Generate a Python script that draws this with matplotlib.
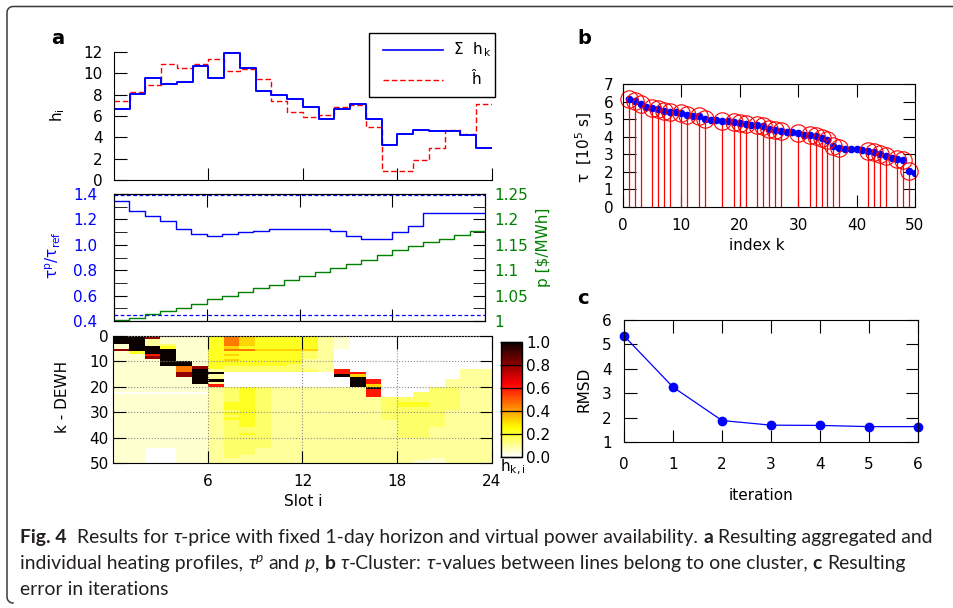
import numpy as np
import matplotlib.pyplot as plt
from matplotlib.lines import Line2D
from matplotlib.patches import Rectangle
from matplotlib.font_manager import FontProperties

plt.rcParams['font.family'] = ['DejaVu Sans']

W, H = 954, 608

# panel a: 24 hourly slots (edges 0..24)
slots = np.arange(25)
h_sum = [6.7, 8.1, 9.6, 9.0, 9.15, 10.7, 9.6, 11.9, 10.5, 8.35, 8.0, 7.55,
         6.8, 5.75, 6.7, 7.1, 5.75, 3.25, 4.35, 4.65, 4.55, 4.55, 4.2, 3.0]
h_hat = [7.45, 8.25, 8.95, 10.9, 10.5, 10.9, 11.3, 10.2, 10.4, 9.45, 7.45, 6.4,
         5.9, 6.05, 6.8, 7.0, 4.95, 0.8, 0.8, 1.9, 3.0, 4.65, 4.35, 7.1]
tau_ratio = [1.345, 1.266, 1.227, 1.187, 1.122, 1.088, 1.072, 1.082, 1.098, 1.111,
             1.122, 1.122, 1.122, 1.122, 1.111, 1.072, 1.048, 1.048, 1.098, 1.147,
             1.253, 1.253, 1.253, 1.253]
price = [1.001, 1.005, 1.013, 1.020, 1.026, 1.033, 1.043, 1.049, 1.058, 1.064,
         1.071, 1.081, 1.088, 1.096, 1.104, 1.112, 1.120, 1.129, 1.139, 1.148,
         1.155, 1.161, 1.170, 1.178]
tau_bounds = [1.395, 0.445]

# h_k,i per DEWH (rows k=0..49) and slot (cols), coded 0-9 -> heat_levels
heat_levels = [0.0, 0.05, 0.1, 0.15, 0.22, 0.32, 0.45, 0.6, 0.8, 1.0]
heat_rows = [
    "998111465444421000000000",
    "992111465444421000000000",
    "992111465444421000000000",
    "192311465444421000000000",
    "199411454444421000000000",
    "899911466555520000000000",
    "149911444444320000000000",
    "117911454444320000000000",
    "118911444444320000000000",
    "111911454444220000000000",
    "111991444444220000000000",
    "111991444443220000000000",
    "111168433333220000000000",
    "111169233333327000000022",
    "111189900000007700000022",
    "111189200000009500000022",
    "111119200000000900000022",
    "111119900000000970000222",
    "111119200000000970000222",
    "111111700000000950000222",
    "111111234322222290003322",
    "111111234322222270003322",
    "000000234322222270033322",
    "111111234322222270033322",
    "111111234322222223333322",
    "111111234322222223333322",
    "111111244322222223443322",
    "111111244322222223443322",
    "111111244322222223333322",
    "111111234322222223333222",
    "111111244322222223333222",
    "111111234322222223333222",
    "111111244322222223333222",
    "111111234322222222333222",
    "111111234322222222333222",
    "111111234322222222333222",
    "111111233322222222332222",
    "111111233322222222332222",
    "111111234322222222332222",
    "111111233322222222332222",
    "111111233322222222222222",
    "111111233322222222222222",
    "111111233322222222222222",
    "111111233322222222222222",
    "110011233222222222222222",
    "110011233222222222222222",
    "110011233222222222222222",
    "110011232222222222222222",
    "110011222222222222221222",
    "110011222222222222211222",
]
assert len(heat_rows) == 50 and all(len(r) == 24 for r in heat_rows)

# panel b
k_index = np.arange(1, 51)
tau_k = [6.17, 6.05, 5.86, 5.67, 5.63, 5.58, 5.48, 5.39, 5.39, 5.37,
         5.26, 5.20, 5.16, 5.00, 4.97, 4.97, 4.91, 4.88, 4.84, 4.78,
         4.72, 4.69, 4.69, 4.59, 4.46, 4.36, 4.31, 4.25, 4.25, 4.21,
         4.12, 4.08, 4.02, 3.93, 3.83, 3.49, 3.36, 3.30, 3.30, 3.30,
         3.22, 3.21, 3.13, 3.04, 2.88, 2.79, 2.73, 2.69, 2.03, 1.94]
cluster_k = [1, 2, 3, 5, 6, 7, 8, 10, 11, 13, 14, 17, 19, 20, 21, 23, 24, 25,
             26, 27, 30, 32, 33, 34, 35, 36, 37, 42, 43, 44, 45, 47, 48, 49]

# panel c
iterations = np.arange(7)
rmsd = [5.35, 3.25, 1.88, 1.69, 1.68, 1.63, 1.63]

BLUE, RED, GREEN = '#0000ff', '#ff0000', '#008000'
TICK = 11
TL = 9


def px_box(x0, y0, x1, y1):
    return [x0 / W, 1 - y1 / H, (x1 - x0) / W, (y1 - y0) / H]


def label(x, y, s, **kw):
    fig.text(x / W, 1 - y / H, s, ha='center', va='center', **kw)


def stepped(vals):
    return np.append(vals, vals[-1])


fig = plt.figure(figsize=(W / 100, H / 100), dpi=100)

# ---- a: aggregated profile
ax_h = fig.add_axes(px_box(114, 52, 492, 180))
ax_h.step(slots, stepped(h_hat), where='post', color=RED, lw=1.0, ls=(0, (4, 2)))
ax_h.step(slots, stepped(h_sum), where='post', color=BLUE, lw=1.4)
ax_h.set_xlim(0, 24)
ax_h.set_ylim(0, 12)
ax_h.set_xticks([6, 12, 18, 24])
ax_h.set_xticklabels([])
ax_h.set_yticks(range(0, 13, 2))
ax_h.spines[['top', 'right']].set_visible(False)
ax_h.tick_params(direction='in', length=TL, labelsize=TICK, pad=8)

# legend drawn by hand (gnuplot style box)
fig.add_artist(Rectangle((369 / W, 1 - 97 / H), 126 / W, 64 / H, transform=fig.transFigure,
                         fill=False, ec='black', lw=1.0))
fig.add_artist(Line2D([383 / W, 443 / W], [1 - 50 / H] * 2, color=BLUE, lw=1.2,
                      transform=fig.transFigure))
fig.add_artist(Line2D([383 / W, 443 / W], [1 - 80 / H] * 2, color=RED, lw=1.0,
                      ls=(0, (4, 2)), transform=fig.transFigure))
label(473, 50, 'Σ  h$_{\\,\\mathregular{k}}$', fontsize=TICK)
label(476, 80, 'ĥ', fontsize=TICK)

# ---- a: tau ratio and price
ax_t = fig.add_axes(px_box(114, 194, 485, 321))
ax_t.step(slots, stepped(tau_ratio), where='post', color=BLUE, lw=1.0)
for b in tau_bounds:
    ax_t.axhline(b, color=BLUE, lw=0.9, ls=(0, (3, 2)))
ax_t.set_xlim(0, 24)
ax_t.set_ylim(0.4, 1.4)
ax_t.set_xticks([6, 12, 18])
ax_t.set_xticklabels([])
ax_t.set_yticks(np.arange(0.4, 1.41, 0.2))
ax_t.set_yticks(np.arange(0.5, 1.31, 0.2), minor=True)
ax_t.yaxis.set_major_formatter('{x:.1f}')
ax_t.tick_params(axis='x', direction='in', length=TL, top=True)
ax_t.tick_params(axis='y', which='both', direction='in', length=TL, labelsize=TICK,
                 labelcolor=BLUE, pad=12)

ax_p = ax_t.twinx()
ax_p.step(slots, stepped(price), where='post', color=GREEN, lw=1.0)
ax_p.set_ylim(1.0, 1.25)
ax_p.set_yticks([1.0, 1.05, 1.1, 1.15, 1.2, 1.25])
ax_p.set_yticklabels(['1', '1.05', '1.1', '1.15', '1.2', '1.25'])
ax_p.set_yticks(np.arange(1.025, 1.25, 0.05), minor=True)
ax_p.tick_params(axis='y', which='both', direction='in', length=TL, labelsize=TICK,
                 labelcolor=GREEN, pad=7)

# ---- a: individual profiles
heat = np.array([[heat_levels[int(c)] for c in row] for row in heat_rows])
ax_m = fig.add_axes(px_box(113, 336, 492, 463))
im = ax_m.imshow(heat, cmap='hot_r', vmin=0, vmax=1, extent=(0, 24, 50, 0),
                 aspect='auto', interpolation='nearest')
ax_m.set_xticks([6, 12, 18, 24])
ax_m.set_yticks(range(0, 51, 10))
ax_m.set_axisbelow(False)
ax_m.grid(True, color='#8c8c8c', ls=':', lw=0.8)
ax_m.tick_params(direction='in', length=TL, top=True, right=True, labelsize=TICK)
ax_m.tick_params(axis='y', pad=3)
ax_m.tick_params(axis='x', pad=8)

cax = fig.add_axes(px_box(501, 342, 522, 457))
cb = fig.colorbar(im, cax=cax, ticks=np.arange(0, 1.01, 0.2))
cb.ax.yaxis.set_major_formatter('{x:.1f}')
cb.ax.tick_params(direction='in', length=15.5, width=0.9, labelsize=TICK, pad=3)
cb.outline.set_linewidth(1.0)
label(513, 467, 'h$_\\mathregular{k,i}$', fontsize=TICK)

# ---- b: tau clusters
ax_b = fig.add_axes(px_box(623, 84, 915, 207))
tau_sel = [tau_k[k - 1] for k in cluster_k]
ax_b.vlines(cluster_k, 0, tau_sel, color=RED, lw=0.9)
ax_b.plot(k_index, tau_k, 'o', color=BLUE, ms=5.5, mec='none')
ax_b.plot(cluster_k, tau_sel, 'o', mfc='none', mec=RED, ms=12.5, mew=0.8, clip_on=False)
ax_b.set_xlim(0, 50)
ax_b.set_ylim(0, 7)
ax_b.set_xticks(range(0, 51, 10))
ax_b.set_yticks(range(0, 8))
ax_b.tick_params(direction='in', length=TL, top=True, right=True, labelsize=TICK)
ax_b.tick_params(axis='y', pad=7)
ax_b.tick_params(axis='x', pad=8)

# ---- c: RMSD
ax_c = fig.add_axes(px_box(624, 320, 918, 442))
ax_c.plot(iterations, rmsd, '-o', color=BLUE, lw=0.9, ms=6, clip_on=False)
ax_c.set_xlim(0, 6)
ax_c.set_ylim(1, 6)
ax_c.set_xticks(range(0, 7))
ax_c.set_yticks(range(1, 7))
ax_c.tick_params(direction='in', length=TL, top=True, right=True, labelsize=TICK)
ax_c.tick_params(axis='y', pad=9)
ax_c.tick_params(axis='x', pad=11)

# panel letters and axis titles
label(58, 38, 'a', fontsize=14, fontweight='bold')
label(584, 38, 'b', fontsize=14, fontweight='bold')
label(583, 299, 'c', fontsize=14, fontweight='bold')
label(58, 115, 'h$_\\mathregular{i}$', fontsize=TICK, rotation=90)
label(53, 255, 'τ$^\\mathregular{p}$/τ$_\\mathregular{ref}$', fontsize=TICK, rotation=90,
      color=BLUE)
label(544, 247, 'p [\\$/MWh]', fontsize=TICK, rotation=90, color=GREEN)
label(63, 397, 'k - DEWH', fontsize=TICK, rotation=90)
label(303, 501, 'Slot i', fontsize=TICK)
label(584, 147, 'τ  [10$^\\mathregular{5}$ s]', fontsize=TICK, rotation=90)
label(757, 246, 'index k', fontsize=TICK)
label(584, 389, 'RMSD', fontsize=TICK, rotation=90)
label(761, 496, 'iteration', fontsize=TICK)

# ---- caption
CAP_FONT = ['Lato', 'DejaVu Sans']
CAP_COLOR = '#231f20'
renderer = fig.canvas.get_renderer()

N, B, I = ('normal', 'normal'), ('bold', 'normal'), ('normal', 'italic')
line1 = [('Fig. 4', *B, 1, 0), ('  Results for ', *N, 1, 0), ('τ', *I, 1, 0),
         ('-price with fixed 1-day horizon and virtual power availability. ', *N, 1, 0),
         ('a', *B, 1, 0), (' Resulting aggregated and', *N, 1, 0)]
line2 = [('individual heating profiles, ', *N, 1, 0), ('τ', *I, 1, 0), ('p', *I, 0.7, -7),
         (' and ', *N, 1, 0), ('p', *I, 1, 0), (', ', *N, 1, 0), ('b', *B, 1, 0), (' ', *N, 1, 0),
         ('τ', *I, 1, 0), ('-Cluster: ', *N, 1, 0), ('τ', *I, 1, 0),
         ('-values between lines belong to one cluster, ', *N, 1, 0), ('c', *B, 1, 0),
         (' Resulting', *N, 1, 0)]
line3 = [('error in iterations', *N, 1, 0)]


def run_prop(weight, style, scale, size):
    return FontProperties(family=CAP_FONT, size=size * scale, weight=weight, style=style)


def run_width(s, prop):
    w1 = renderer.get_text_width_height_descent('|' + s + '|', prop, ismath=False)[0]
    w0 = renderer.get_text_width_height_descent('||', prop, ismath=False)[0]
    return w1 - w0


def line_width(runs, size):
    return sum(run_width(s, run_prop(w, st, sc, size)) for s, w, st, sc, dy in runs)


# fit the first caption line to the width it has in the page layout
CAP_SIZE = 12.5
CAP_SIZE *= (935 - 20) / line_width(line1, CAP_SIZE)


def caption_line(x, y, runs):
    for s, weight, style, scale, dy in runs:
        prop = run_prop(weight, style, scale, CAP_SIZE)
        lead = len(s) - len(s.lstrip(' '))
        xd = x + (run_width(' ' * lead, prop) if lead else 0)
        fig.text(xd / W, 1 - (y + dy) / H, s.strip(), fontproperties=prop, color=CAP_COLOR,
                 ha='left', va='baseline')
        x += run_width(s, prop)


caption_line(20, 543, line1)
caption_line(20, 569, line2)
caption_line(20, 595, line3)

# frame of the figure box (top rule and rounded left edge)
r = 6
a1 = np.linspace(np.pi / 2, np.pi, 8)
a2 = np.linspace(np.pi, 1.5 * np.pi, 8)
fx = np.concatenate([[954], 13 + r * np.cos(a1), 13 + r * np.cos(a2)])
fy = np.concatenate([[6.5], 12.5 - r * np.sin(a1), 597 - r * np.sin(a2)])
fig.add_artist(Line2D(fx / W, 1 - fy / H, color='#3a3a3a', lw=1.1, transform=fig.transFigure))

fig.savefig('out.png', dpi=100)
